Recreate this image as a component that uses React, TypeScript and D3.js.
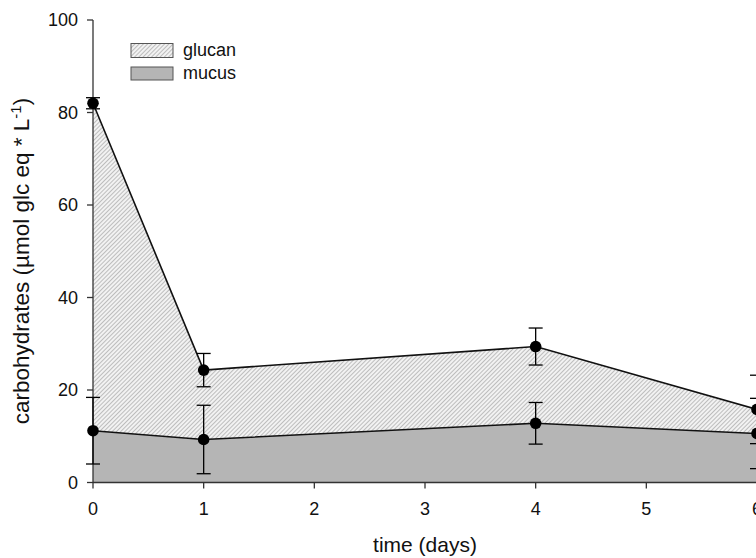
import React from "react";
import * as d3 from "d3";

const days = [0, 1, 4, 6];
const glucan = [82, 24.3, 29.4, 15.8];
const glucanErr = [1.2, 3.6, 4.0, 7.4];
const mucus = [11.2, 9.3, 12.8, 10.6];
const mucusErr = [7.2, 7.4, 4.5, 7.6];
const xTicks = [0, 1, 2, 3, 4, 5, 6];
const yTicks = [0, 20, 40, 60, 80, 100];
const legendLabels = ["glucan", "mucus"];

const W = 756;
const H = 558;
const FONT = "'Liberation Sans', Arial, sans-serif";

export default function App() {
  const x = d3.scaleLinear().domain([0, 6]).range([93, 757]);
  const y = d3.scaleLinear().domain([0, 100]).range([482.5, 20]);

  const pts = days.map((d, i) => ({ d, g: glucan[i], m: mucus[i], ge: glucanErr[i], me: mucusErr[i] }));

  const glucanArea = d3
    .area<any>()
    .x((p) => x(p.d))
    .y0((p) => y(p.m))
    .y1((p) => y(p.g))(pts) as string;
  const mucusArea = d3
    .area<any>()
    .x((p) => x(p.d))
    .y0(() => y(0))
    .y1((p) => y(p.m))(pts) as string;
  const gLine = d3.line<any>().x((p) => x(p.d)).y((p) => y(p.g))(pts) as string;
  const mLine = d3.line<any>().x((p) => x(p.d)).y((p) => y(p.m))(pts) as string;

  const cap = 7;
  const errBar = (cx: number, v: number, e: number, key: string) => (
    <g key={key} stroke="#000" strokeWidth={1.3}>
      <line x1={cx} x2={cx} y1={y(v + e)} y2={y(v - e)} />
      <line x1={cx - cap} x2={cx + cap} y1={y(v + e)} y2={y(v + e)} />
      <line x1={cx - cap} x2={cx + cap} y1={y(v - e)} y2={y(v - e)} />
    </g>
  );

  return (
    <svg width={W} height={H} style={{ position: "absolute", left: 0, top: 0, background: "#fff" }}>
      <defs>
        <pattern id="hatch" patternUnits="userSpaceOnUse" width={3} height={3} patternTransform="rotate(45)">
          <rect width={3} height={3} fill="#f2f2f2" />
          <line x1={0} y1={0} x2={0} y2={3} stroke="#888" strokeWidth={1} />
        </pattern>
      </defs>

      <path d={glucanArea} fill="url(#hatch)" />
      <path d={mucusArea} fill="#b5b5b5" />
      <path d={gLine} fill="none" stroke="#111" strokeWidth={1.6} />
      <path d={mLine} fill="none" stroke="#111" strokeWidth={1.6} />

      {/* axes */}
      <g stroke="#333" strokeWidth={1.3}>
        <line x1={93} x2={93} y1={y(100)} y2={y(0)} />
        <line x1={93} x2={W} y1={y(0)} y2={y(0)} />
        {yTicks.map((t) => (
          <line key={"yt" + t} x1={87} x2={93} y1={y(t)} y2={y(t)} />
        ))}
        {xTicks.map((t) => (
          <line key={"xt" + t} x1={x(t)} x2={x(t)} y1={y(0)} y2={y(0) + 6} />
        ))}
      </g>
      <g fontFamily={FONT} fontSize={18} fill="#111">
        {yTicks.map((t) => (
          <text key={"yl" + t} x={78} y={y(t)} textAnchor="end" dominantBaseline="central">
            {t}
          </text>
        ))}
        {xTicks.map((t) => (
          <text key={"xl" + t} x={x(t)} y={515} textAnchor="middle">
            {t}
          </text>
        ))}
      </g>

      {/* error bars */}
      {pts.map((p, i) => errBar(x(p.d), p.g, p.ge, "ge" + i))}
      {pts.map((p, i) => errBar(x(p.d), p.m, p.me, "me" + i))}

      {/* points */}
      {pts.map((p, i) => (
        <circle key={"gp" + i} cx={x(p.d)} cy={y(p.g)} r={5.8} fill="#000" />
      ))}
      {pts.map((p, i) => (
        <circle key={"mp" + i} cx={x(p.d)} cy={y(p.m)} r={5.8} fill="#000" />
      ))}

      {/* legend */}
      <rect x={131} y={43.5} width={42} height={14} fill="url(#hatch)" stroke="#555" strokeWidth={1} />
      <rect x={131} y={67} width={42} height={13} fill="#b5b5b5" stroke="#555" strokeWidth={1} />
      <g fontFamily={FONT} fontSize={18} fill="#111">
        <text x={183} y={56}>{legendLabels[0]}</text>
        <text x={183} y={79}>{legendLabels[1]}</text>
      </g>

      {/* titles */}
      <text x={425} y={552} textAnchor="middle" fontFamily={FONT} fontSize={21} fill="#111">
        time (days)
      </text>
      <text
        transform="translate(29,261) rotate(-90)"
        textAnchor="middle"
        fontFamily={FONT}
        fontSize={22.5}
        fill="#111"
      >
        carbohydrates (µmol glc eq * L
        <tspan fontSize={15} dy={-8}>-1</tspan>
        <tspan dy={8}>)</tspan>
      </text>
    </svg>
  );
}
